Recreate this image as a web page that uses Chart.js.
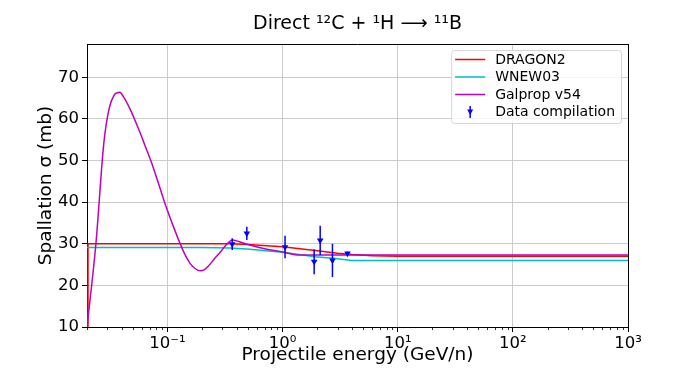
<!DOCTYPE html>
<html><head><meta charset="utf-8">
<script src="https://cdn.jsdelivr.net/npm/chart.js@4/dist/chart.umd.min.js"></script>
<style>html,body{margin:0;padding:0;background:#fff}</style>
</head><body>
<canvas id="c" width="698" height="368"></canvas>
<script>
const chartTitle = 'Direct \u00B9\u00B2C + \u00B9H \u27F6 \u00B9\u00B9B';
const xAxisTitle = 'Projectile energy (GeV/n)';
const yAxisTitle = 'Spallation \u03C3 (mb)';
const seriesLabels = ['DRAGON2', 'WNEW03', 'Galprop v54', 'Data compilation'];

const dragonE     = [0.02, 0.0204, 0.1, 0.35, 0.5, 1.0, 2.0, 3.0, 4.0, 6.0, 10, 100, 1000];
const dragonSigma = [10, 30.0, 30.0, 30.0, 29.8, 29.3, 28.3, 27.7, 27.4, 27.1, 27.0, 27.0, 27.0];

const wnewE     = [0.02, 0.2, 0.35, 0.52, 1.05, 1.9, 2.75, 4.0, 10, 100, 1000];
const wnewSigma = [29.1, 29.1, 29.0, 28.7, 27.9, 26.9, 26.5, 26.0, 26.0, 26.0, 26.0];

const galpropE     = [0.02, 0.0239, 0.028, 0.0312, 0.0345, 0.0366, 0.0386, 0.0413, 0.048, 0.0557, 0.064, 0.0729, 0.084, 0.097, 0.112, 0.1285, 0.142, 0.157, 0.175, 0.192, 0.21, 0.226, 0.254, 0.286, 0.32, 0.349, 0.365, 0.42, 0.489, 0.73, 1.05, 1.33, 2.0, 10, 100, 1000];
const galpropSigma = [10, 30, 54.2, 62.6, 65.8, 66.3, 66.4, 65.4, 62.0, 57.8, 53.5, 49.4, 44.3, 39.0, 34.3, 30.1, 27.4, 25.3, 24.0, 23.5, 23.8, 24.6, 26.3, 27.9, 29.6, 30.6, 30.9, 30.5, 29.9, 28.7, 27.9, 27.3, 27.3, 27.3, 27.3, 27.3];

const dataE     = [0.365, 0.489, 1.05, 1.88, 2.12, 2.71, 3.66];
const dataSigma = [29.9, 32.5, 29.2, 25.7, 30.8, 26.0, 27.7];
const dataErr   = [1.4, 1.6, 2.7, 3.0, 3.5, 4.0, 0.4];

const xMin = 0.02, xMax = 1000;
const yMin = 10, yMax = 78;
const xMajorTicks = [0.1, 1, 10, 100, 1000];
const xTickLabels = ['10\u207B\u00B9', '10\u2070', '10\u00B9', '10\u00B2', '10\u00B3'];
const yTicks = [10, 20, 30, 40, 50, 60, 70];
const yTickLabels = ['10', '20', '30', '40', '50', '60', '70'];

const toXY = (xs, ys) => xs.map((x, i) => ({x: x, y: ys[i]}));
const isMajor = v => v !== undefined && xMajorTicks.some(m => Math.abs(m - v) / m < 1e-6);

Chart.defaults.font.family = '"DejaVu Sans", sans-serif';
Chart.defaults.color = '#000';

const extras = {
  id: 'extras',
  beforeDatasetDraw(chart, args) {
    if (args.meta.label !== seriesLabels[3]) return;
    const {ctx} = chart, xs = chart.scales.x, ys = chart.scales.y;
    ctx.save();
    ctx.strokeStyle = '#0000ff';
    ctx.lineWidth = 1.5;
    dataE.forEach((e, i) => {
      const px = xs.getPixelForValue(e);
      ctx.beginPath();
      ctx.moveTo(px, ys.getPixelForValue(dataSigma[i] - dataErr[i]));
      ctx.lineTo(px, ys.getPixelForValue(dataSigma[i] + dataErr[i]));
      ctx.stroke();
    });
    ctx.restore();
  },
  afterDraw(chart) {
    const {ctx, chartArea: a} = chart;
    const xs = chart.scales.x;
    ctx.save();
    ctx.strokeStyle = '#000';
    ctx.lineWidth = 1;
    ctx.beginPath();
    ctx.moveTo(a.left, Math.round(a.top) + 0.5);
    ctx.lineTo(a.right, Math.round(a.top) + 0.5);
    ctx.moveTo(Math.round(a.right) + 0.5, a.top);
    ctx.lineTo(Math.round(a.right) + 0.5, a.bottom);
    ctx.stroke();
    ctx.beginPath();
    xs.ticks.forEach(t => {
      if (isMajor(t.value)) return;
      const px = Math.round(xs.getPixelForValue(t.value)) + 0.5;
      ctx.moveTo(px, a.bottom);
      ctx.lineTo(px, a.bottom + 3);
    });
    ctx.lineWidth = 0.8;
    ctx.stroke();
    const ds = chart.data.datasets;
    ctx.font = '14px "DejaVu Sans"';
    const tw = Math.max(...ds.map(d => ctx.measureText(d.label).width));
    const w = 44 + tw + 6, h = 73;
    const x0 = a.right - 7 - w, y0 = a.top + 6;
    ctx.beginPath();
    ctx.roundRect(x0 + 0.5, y0 + 0.5, w, h, 3);
    ctx.fillStyle = 'rgba(255,255,255,0.8)';
    ctx.fill();
    ctx.strokeStyle = '#d6d6d6';
    ctx.lineWidth = 1;
    ctx.stroke();
    ds.forEach((d, i) => {
      const ry = y0 + 9.5 + i * 17.5;
      if (i < 3) {
        ctx.beginPath();
        ctx.moveTo(x0 + 4, ry);
        ctx.lineTo(x0 + 34, ry);
        ctx.strokeStyle = d.borderColor;
        ctx.lineWidth = 1.5;
        ctx.stroke();
      } else {
        const cx = x0 + 19;
        ctx.beginPath();
        ctx.moveTo(cx, ry - 6);
        ctx.lineTo(cx, ry + 6);
        ctx.strokeStyle = '#0000ff';
        ctx.lineWidth = 1.5;
        ctx.stroke();
        ctx.beginPath();
        ctx.moveTo(cx - 3, ry - 2.5);
        ctx.lineTo(cx + 3, ry - 2.5);
        ctx.lineTo(cx, ry + 3);
        ctx.closePath();
        ctx.fillStyle = '#0000ff';
        ctx.fill();
      }
      ctx.fillStyle = '#000';
      ctx.textBaseline = 'middle';
      ctx.textAlign = 'left';
      ctx.fillText(d.label, x0 + 44, ry + 0.5);
    });
    ctx.restore();
  }
};

new Chart(document.getElementById('c'), {
  type: 'line',
  data: {
    datasets: [
      {label: seriesLabels[0], data: toXY(dragonE, dragonSigma), borderColor: '#ff0000', backgroundColor: '#ff0000', borderWidth: 1.5, pointRadius: 0, tension: 0, order: 3},
      {label: seriesLabels[1], data: toXY(wnewE, wnewSigma), borderColor: '#00bfbf', backgroundColor: '#00bfbf', borderWidth: 1.5, pointRadius: 0, tension: 0, order: 2},
      {label: seriesLabels[2], data: toXY(galpropE, galpropSigma), borderColor: '#bf00bf', backgroundColor: '#bf00bf', borderWidth: 1.5, pointRadius: 0, cubicInterpolationMode: 'monotone', order: 1},
      {label: seriesLabels[3], data: toXY(dataE, dataSigma), type: 'scatter', showLine: false, borderColor: '#0000ff', backgroundColor: '#0000ff', pointStyle: 'triangle', rotation: 180, pointRadius: 3.8, borderWidth: 0, order: 0}
    ]
  },
  options: {
    responsive: false,
    animation: false,
    events: [],
    layout: {padding: {left: 0, right: 70, top: 0, bottom: 0}},
    plugins: {
      legend: {display: false},
      tooltip: {enabled: false},
      title: {
        display: true, text: chartTitle, fullSize: false,
        font: {size: 19, weight: 'normal'}, color: '#000',
        padding: {top: 12.5, bottom: 8.7}
      }
    },
    scales: {
      x: {
        type: 'logarithmic', min: xMin, max: xMax,
        afterBuildTicks: s => {
          const t = [];
          for (let e = -2; e <= 3; e++) for (let m = 1; m < 10; m++) {
            const v = parseFloat((m * Math.pow(10, e)).toPrecision(6));
            if (v >= xMin * 0.9999 && v <= xMax * 1.0001) t.push({value: v});
          }
          s.ticks = t;
        },
        afterFit: s => { s.height = 41; },
        ticks: {
          autoSkip: false, maxRotation: 0, minRotation: 0, padding: 2,
          font: {size: 16.5}, color: '#000',
          callback: v => { const i = xMajorTicks.findIndex(m => Math.abs(m - v) / m < 1e-6); return i >= 0 ? xTickLabels[i] : ''; }
        },
        grid: {
          color: c => isMajor(c.tick && c.tick.value) ? '#cccccc' : 'rgba(0,0,0,0)',
          tickColor: c => isMajor(c.tick && c.tick.value) ? '#000' : 'rgba(0,0,0,0)',
          lineWidth: 1, tickLength: 5
        },
        border: {color: '#000', width: 1},
        title: {display: true, text: xAxisTitle, font: {size: 18.5}, color: '#000', padding: {top: 2, bottom: 2}}
      },
      y: {
        type: 'linear', min: yMin, max: yMax,
        afterBuildTicks: s => { s.ticks = yTicks.map(v => ({value: v})); },
        afterFit: s => { s.width = 87; },
        ticks: {
          padding: 3, font: {size: 16.5}, color: '#000',
          callback: v => { const i = yTicks.indexOf(v); return i >= 0 ? yTickLabels[i] : ''; }
        },
        grid: {color: '#cccccc', lineWidth: 1, tickLength: 5, tickColor: '#000'},
        border: {color: '#000', width: 1},
        title: {display: true, text: yAxisTitle, font: {size: 18.5}, color: '#000', padding: {top: 35, bottom: 35}}
      }
    }
  },
  plugins: [extras]
});
</script>
</body></html>
